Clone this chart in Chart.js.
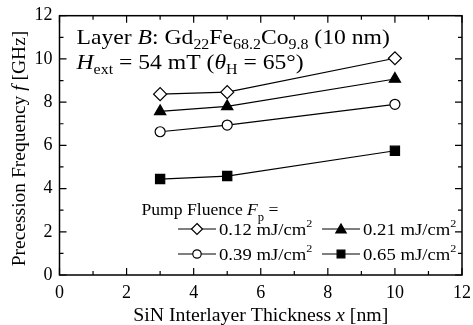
<!DOCTYPE html>
<html>
<head>
<meta charset="utf-8">
<script src="https://cdn.jsdelivr.net/npm/chart.js@4/dist/chart.umd.min.js"></script>
<style>
  html, body { margin: 0; padding: 0; background: #fff; }
  #wrap { width: 473px; height: 325px; }
  .pre { font-family: "Liberation Serif"; position: absolute; left: -1000px; top: 0; }
</style>
</head>
<body>
<span class="pre">Aa</span><span class="pre" style="font-style:italic">Aa</span>
<div id="wrap"><canvas id="c" width="473" height="325"></canvas></div>
<script>
// ---- data ----
const thickness = [3, 5, 10];                 // SiN interlayer thickness x [nm]
const fluenceLabels = ['0.12', '0.21', '0.39', '0.65']; // mJ/cm^2
const freq012 = [8.37, 8.46, 10.03];
const freq021 = [7.57, 7.80, 9.07];
const freq039 = [6.63, 6.94, 7.90];
const freq065 = [4.44, 4.58, 5.75];
const xTickLabels = [0, 2, 4, 6, 8, 10, 12];
const yTickLabels = [0, 2, 4, 6, 8, 10, 12];

const SERIF = '"Liberation Serif", serif';

function pts(ys) { return thickness.map((x, i) => ({ x: x, y: ys[i] })); }

const styles = [
  { style: 'rectRot', fill: '#ffffff', r: 6.5 },
  { style: 'triangle', fill: '#000000', r: 6.5 },
  { style: 'circle', fill: '#ffffff', r: 5 },
  { style: 'rect', fill: '#000000', r: 6.5 }
];
const series = [freq012, freq021, freq039, freq065];

const datasets = series.map((ys, i) => ({
  label: fluenceLabels[i] + ' mJ/cm²',
  data: pts(ys),
  showLine: true,
  borderColor: '#000',
  borderWidth: 1.2,
  pointStyle: styles[i].style,
  pointRadius: styles[i].r,
  pointBackgroundColor: styles[i].fill,
  pointBorderColor: '#000',
  pointBorderWidth: 1.2,
  tension: 0
}));

function drawRich(ctx, x, y, segs, stretch, align) {
  ctx.save();
  ctx.translate(x, y);
  ctx.scale(stretch || 1, 1);
  let total = 0;
  segs.forEach(s => {
    ctx.font = (s.italic ? 'italic ' : '') + s.size + 'px ' + SERIF;
    total += ctx.measureText(s.t).width;
  });
  let cx = align === 'center' ? -total / 2 : 0;
  ctx.fillStyle = '#000';
  ctx.textBaseline = 'alphabetic';
  ctx.textAlign = 'left';
  segs.forEach(s => {
    ctx.font = (s.italic ? 'italic ' : '') + s.size + 'px ' + SERIF;
    ctx.fillText(s.t, cx, s.dy || 0);
    cx += ctx.measureText(s.t).width;
  });
  ctx.restore();
}

function marker(ctx, kind, x, y, r, fill) {
  ctx.save();
  ctx.beginPath();
  if (kind === 'rectRot') {
    ctx.moveTo(x, y - r); ctx.lineTo(x + r, y); ctx.lineTo(x, y + r); ctx.lineTo(x - r, y); ctx.closePath();
  } else if (kind === 'triangle') {
    const h = r * Math.sin(Math.PI / 3);
    ctx.moveTo(x, y - r); ctx.lineTo(x + h, y + r / 2); ctx.lineTo(x - h, y + r / 2); ctx.closePath();
  } else if (kind === 'circle') {
    ctx.arc(x, y, r, 0, Math.PI * 2);
  } else {
    const s = r * Math.SQRT1_2;
    ctx.rect(x - s, y - s, 2 * s, 2 * s);
  }
  ctx.fillStyle = fill; ctx.fill();
  ctx.lineWidth = 1.2; ctx.strokeStyle = '#000'; ctx.stroke();
  ctx.restore();
}

const framePlugin = {
  id: 'framePlugin',
  afterDatasetsDraw(chart) {
    const ctx = chart.ctx;
    const a = chart.chartArea;
    const xs = chart.scales.x, ys = chart.scales.y;
    ctx.save();
    ctx.strokeStyle = '#000';
    ctx.lineWidth = 1.5;
    ctx.strokeRect(a.left, a.top, a.right - a.left, a.bottom - a.top);
    ctx.lineWidth = 1.2;
    ctx.beginPath();
    for (let v = 0; v <= 12; v += 1) {
      const len = v % 2 === 0 ? 7 : 4;
      const px = xs.getPixelForValue(v);
      ctx.moveTo(px, a.bottom); ctx.lineTo(px, a.bottom - len);
      ctx.moveTo(px, a.top); ctx.lineTo(px, a.top + len);
      const py = ys.getPixelForValue(v);
      ctx.moveTo(a.left, py); ctx.lineTo(a.left + len, py);
      ctx.moveTo(a.right, py); ctx.lineTo(a.right - len, py);
    }
    ctx.stroke();
    ctx.restore();

    // axis titles
    drawRich(ctx, (a.left + a.right) / 2, 321, [
      { t: 'SiN Interlayer Thickness ', size: 18 },
      { t: 'x', size: 18, italic: true },
      { t: ' [nm]', size: 18 }
    ], 1.1, 'center');

    ctx.save();
    ctx.translate(24.5, 148.5);
    ctx.rotate(-Math.PI / 2);
    drawRich(ctx, 0, 0, [
      { t: 'Precession Frequency ', size: 19.5 },
      { t: 'f', size: 19.5, italic: true },
      { t: ' [GHz]', size: 19.5 }
    ], 1, 'center');
    ctx.restore();

    // annotation
    drawRich(ctx, 76.5, 43.5, [
      { t: 'Layer ', size: 21.5 },
      { t: 'B', size: 21.5, italic: true },
      { t: ': Gd', size: 21.5 },
      { t: '22', size: 14.5, dy: 5 },
      { t: 'Fe', size: 21.5 },
      { t: '68.2', size: 14.5, dy: 5 },
      { t: 'Co', size: 21.5 },
      { t: '9.8', size: 14.5, dy: 5 },
      { t: ' (10 nm)', size: 21.5 }
    ], 1.1);
    drawRich(ctx, 76.5, 69, [
      { t: 'H', size: 21.5, italic: true },
      { t: 'ext', size: 14.5, dy: 5 },
      { t: ' = 54 mT (', size: 21.5 },
      { t: 'θ', size: 21.5, italic: true },
      { t: 'H', size: 14.5, dy: 5 },
      { t: ' = 65°)', size: 21.5 }
    ], 1.1);

    // legend
    drawRich(ctx, 141.5, 215, [
      { t: 'Pump Fluence ', size: 16 },
      { t: 'F', size: 16, italic: true },
      { t: 'p', size: 11.5, dy: 6 },
      { t: ' =', size: 16 }
    ], 1.1);

    const cols = [{ l0: 178, l1: 216, mx: 197, tx: 219 }, { l0: 322, l1: 360, mx: 341, tx: 363 }];
    const rows = [235, 260];
    const legR = [5.5, 6, 4.2, 5.5];
    for (let i = 0; i < 4; i++) {
      const c = cols[i % 2], base = rows[Math.floor(i / 2)];
      const ly = base - 6;
      ctx.save();
      ctx.strokeStyle = '#000'; ctx.lineWidth = 1.2;
      ctx.beginPath(); ctx.moveTo(c.l0, ly); ctx.lineTo(c.l1, ly); ctx.stroke();
      ctx.restore();
      marker(ctx, styles[i].style, c.mx, ly + (styles[i].style === 'triangle' ? 1 : 0), legR[i], styles[i].fill);
      drawRich(ctx, c.tx, base, [
        { t: fluenceLabels[i] + ' mJ/cm', size: 17 },
        { t: '2', size: 11, dy: -8 }
      ], 1.1);
    }
  }
};

function build() {
  new Chart(document.getElementById('c'), {
    type: 'scatter',
    data: { datasets: datasets },
    options: {
      responsive: false,
      animation: false,
      events: [],
      layout: { padding: { top: 15.7, right: 11, left: 0, bottom: 0 } },
      plugins: { legend: { display: false }, tooltip: { enabled: false }, title: { display: false } },
      scales: {
        x: {
          type: 'linear', min: 0, max: 12,
          afterFit(s) { s.height = 50; s.paddingLeft = 0; s.paddingRight = 0; },
          afterBuildTicks(s) { s.ticks = xTickLabels.map(v => ({ value: v })); },
          grid: { display: false, drawTicks: false },
          border: { display: false },
          ticks: { color: '#000', font: { family: SERIF, size: 18 }, padding: 7, maxRotation: 0 }
        },
        y: {
          type: 'linear', min: 0, max: 12,
          afterFit(s) { s.width = 59.5; s.paddingTop = 0; s.paddingBottom = 0; },
          afterBuildTicks(s) { s.ticks = yTickLabels.map(v => ({ value: v })); },
          grid: { display: false, drawTicks: false },
          border: { display: false },
          ticks: { color: '#000', font: { family: SERIF, size: 18 }, padding: 7 }
        }
      }
    },
    plugins: [framePlugin]
  });
}

Promise.all([
  document.fonts.load('18px "Liberation Serif"'),
  document.fonts.load('italic 18px "Liberation Serif"')
]).then(build, build);
</script>
</body>
</html>
